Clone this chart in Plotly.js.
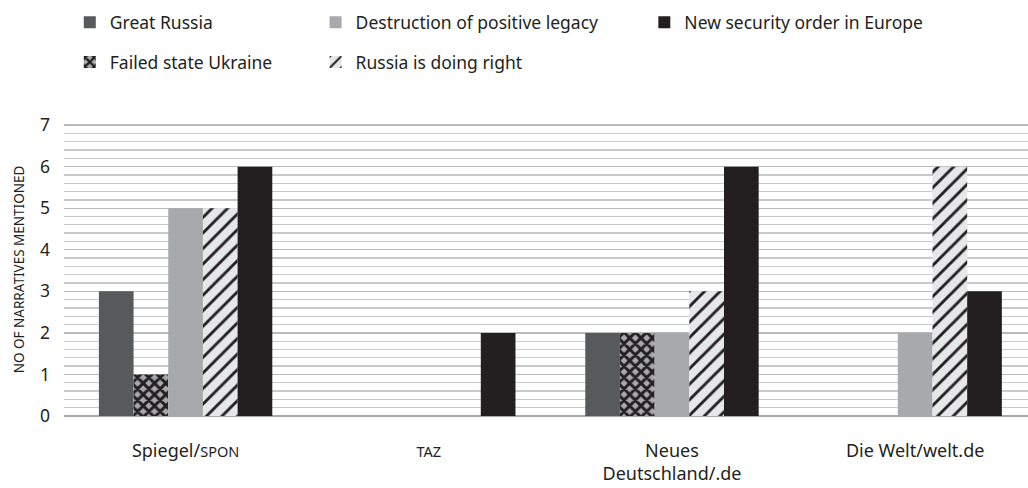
<!DOCTYPE html>
<html>
<head>
<meta charset="utf-8">
<script src="https://cdn.plot.ly/plotly-3.0.1.min.js"></script>
<style>html,body{margin:0;padding:0;background:#fff;}#chart{width:1028px;height:488px;}</style>
</head>
<body>
<div id="chart"></div>
<script>
const outlets = ["Spiegel/<span style='font-size:14.5px'>SPON</span>", "<span style='font-size:14.5px'>TAZ</span>", "Neues<br>Deutschland/.de", "Die Welt/welt.de"];
const greatRussia = [3, 0, 2, 0];
const failedStateUkraine = [1, 0, 2, 0];
const destructionLegacy = [5, 0, 2, 2];
const russiaDoingRight = [5, 0, 3, 6];
const newSecurityOrder = [6, 2, 6, 3];
const yTicks = [0, 1, 2, 3, 4, 5, 6, 7];

const ink = "#231f20";
const traces = [
  {name: "Great Russia", y: greatRussia, marker: {color: "#58595b"}, legend: "legend", legendgroup: "a"},
  {name: "Failed state Ukraine", y: failedStateUkraine,
   marker: {color: "#a7a9ac", pattern: {shape: "x", fgcolor: ink, fgopacity: 1, bgcolor: "#a7a9ac", size: 8, solidity: 0.6, fillmode: "replace"}},
   legend: "legend", legendgroup: "b"},
  {name: "Destruction of positive legacy", y: destructionLegacy, marker: {color: "#a7a9ac"}, legend: "legend2", legendgroup: "c"},
  {name: "Russia is doing right", y: russiaDoingRight,
   marker: {color: "#e6e7e8", pattern: {shape: "/", fgcolor: ink, fgopacity: 1, bgcolor: "#e6e7e8", size: 11, solidity: 0.26, fillmode: "replace"}},
   legend: "legend2", legendgroup: "d"},
  {name: "New security order in Europe", y: newSecurityOrder, marker: {color: ink}, legend: "legend3", legendgroup: "e"}
].map(t => Object.assign({type: "bar", x: outlets, hoverinfo: "y+name"}, t));
traces.forEach(t => { t.marker.line = {width: 0}; });

const legendFont = {family: "Noto Sans, sans-serif", size: 17.5, color: ink};
const legBase = {orientation: "v", xanchor: "left", yanchor: "top", y: 1.405, font: legendFont,
  tracegroupgap: 14, bgcolor: "rgba(0,0,0,0)", itemclick: false, itemdoubleclick: false};

const layout = {
  width: 1028, height: 488,
  margin: {l: 64, r: 0, t: 123, b: 72},
  paper_bgcolor: "#fff", plot_bgcolor: "#fff",
  font: {family: "Noto Sans, sans-serif", color: ink, size: 17.5},
  barmode: "group", bargap: 0.287, bargroupgap: 0,
  showlegend: true,
  legend: Object.assign({}, legBase, {x: 0.006}),
  legend2: Object.assign({}, legBase, {x: 0.261}),
  legend3: Object.assign({}, legBase, {x: 0.602}),
  xaxis: {type: "category", range: [-0.5, 3.464], showgrid: false, zeroline: false, showline: false,
    ticks: "", ticklabelstandoff: 22, tickfont: {size: 18, color: ink}, fixedrange: true},
  yaxis: {range: [0, 7.05], tickvals: yTicks, ticktext: yTicks.map(String),
    showgrid: true, gridcolor: "#b8babc", gridwidth: 1.3,
    minor: {dtick: 0.2, showgrid: true, gridcolor: "#c8c9cb", gridwidth: 1.3, ticks: ""},
    zeroline: true, zerolinecolor: "#a7a9ac", zerolinewidth: 1.5,
    showline: false, ticks: "", ticklabelstandoff: 13, tickfont: {size: 17.5, color: ink},
    title: {text: "NO OF NARRATIVES MENTIONED", font: {size: 13.5, color: ink}, standoff: 12}, fixedrange: true}
};

Plotly.newPlot("chart", traces, layout, {displayModeBar: false, staticPlot: true});
</script>
</body>
</html>
